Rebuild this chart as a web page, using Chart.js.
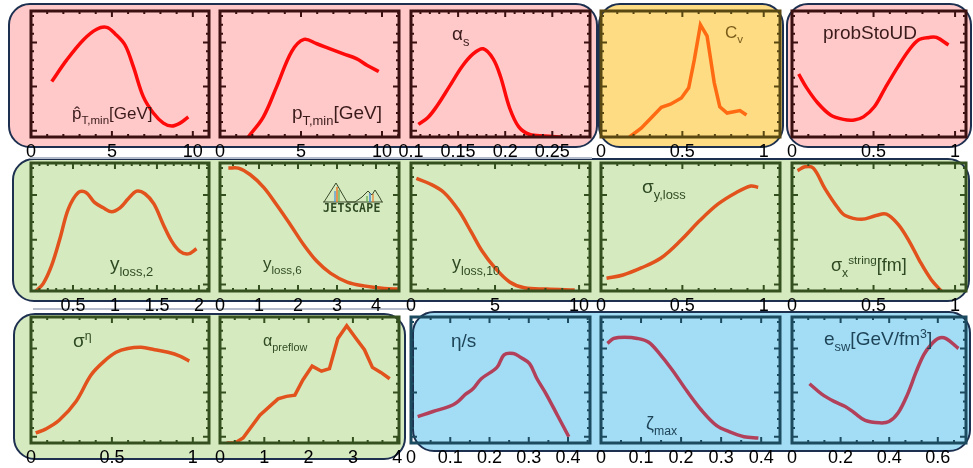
<!DOCTYPE html>
<html>
<head>
<meta charset="utf-8">
<script src="https://cdn.jsdelivr.net/npm/chart.js@4.4.0/dist/chart.umd.min.js"></script>
<style>
  body { margin: 0; background: #fff; }
  #root { position: relative; width: 973px; height: 468px; overflow: hidden; font-family: "Liberation Sans", Arial, sans-serif; }
  .box { position: absolute; box-sizing: border-box; border: 2.5px solid #1d3050; border-radius: 22px; }
  .shade { position: absolute; height: 2px; background: #b4bccb; }
  canvas { position: absolute; }
  .lbl { position: absolute; white-space: nowrap; line-height: 1; }
  .lbl .sb { font-size: 0.68em; position: relative; top: 0.45em; }
  .lbl .sp { font-size: 0.65em; position: relative; top: -0.6em; }
  #logo { position: absolute; left: 322px; top: 181px; width: 62px; height: 32px; }
  #logo span { position: absolute; left: 1px; top: 20px; font: bold 11.5px "DejaVu Sans Mono", monospace; color: #2f4a22; letter-spacing: 0.3px; }
</style>
</head>
<body>
<div id="root"></div>
<script>
// posterior curves, y = fraction of panel height
const ptHatX = [1.28, 2.2, 3.23, 4.06, 4.68, 5.19, 5.81, 6.32, 6.94, 7.56, 8.18, 8.7, 9.21, 9.72];
const ptHatY = [0.44, 0.61, 0.77, 0.855, 0.87, 0.82, 0.73, 0.56, 0.32, 0.19, 0.11, 0.087, 0.11, 0.16];
const ptMinX = [1.75, 2.68, 3.5, 4.43, 5.19, 5.98, 6.8, 7.62, 8.45, 9.07, 9.8];
const ptMinY = [0.0, 0.16, 0.4, 0.68, 0.775, 0.74, 0.7, 0.66, 0.62, 0.57, 0.52];
const alphaSX = [0.1078, 0.1174, 0.127, 0.1407, 0.1542, 0.1659, 0.1767, 0.1872, 0.195, 0.2047, 0.2144, 0.226, 0.2416, 0.259];
const alphaSY = [0.1, 0.15, 0.24, 0.4, 0.56, 0.66, 0.7, 0.62, 0.48, 0.23, 0.08, 0.02, 0.008, 0.0];
const cvX = [0.175, 0.247, 0.315, 0.371, 0.427, 0.494, 0.539, 0.573, 0.611, 0.652, 0.696, 0.73, 0.775, 0.854, 0.894];
const cvY = [0.0, 0.07, 0.16, 0.235, 0.26, 0.31, 0.39, 0.61, 0.89, 0.8, 0.43, 0.24, 0.19, 0.21, 0.175];
const probX = [0.041, 0.09, 0.158, 0.236, 0.315, 0.382, 0.438, 0.505, 0.572, 0.651, 0.718, 0.775, 0.842, 0.886, 0.96];
const probY = [0.5, 0.39, 0.27, 0.175, 0.14, 0.135, 0.16, 0.24, 0.39, 0.56, 0.69, 0.77, 0.79, 0.79, 0.73];

const yl2X = [0.06, 0.147, 0.246, 0.345, 0.444, 0.563, 0.655, 0.76, 0.86, 0.96, 1.06, 1.158, 1.258, 1.357, 1.464, 1.575, 1.675, 1.774, 1.873, 1.972];
const yl2Y = [0.0, 0.06, 0.2, 0.41, 0.64, 0.77, 0.77, 0.69, 0.65, 0.62, 0.65, 0.72, 0.78, 0.76, 0.68, 0.52, 0.39, 0.31, 0.29, 0.33];
const yl6X = [0.214, 0.47, 0.77, 1.12, 1.46, 1.8, 2.15, 2.49, 2.83, 3.26, 3.69, 4.21, 4.58];
const yl6Y = [0.96, 0.96, 0.91, 0.81, 0.67, 0.52, 0.36, 0.23, 0.14, 0.07, 0.04, 0.02, 0.015];
const yl10X = [0.32, 1.08, 1.96, 2.83, 3.59, 4.24, 5.0, 5.87, 6.74, 8.05, 9.74];
const yl10Y = [0.88, 0.84, 0.77, 0.63, 0.46, 0.31, 0.18, 0.07, 0.025, 0.015, 0.008];
const sigYX = [0.034, 0.135, 0.247, 0.371, 0.494, 0.607, 0.72, 0.832, 0.921, 0.966];
const sigYY = [0.1, 0.125, 0.18, 0.26, 0.4, 0.55, 0.68, 0.77, 0.82, 0.81];
const sigStrX = [0.034, 0.079, 0.131, 0.202, 0.281, 0.326, 0.426, 0.516, 0.579, 0.651, 0.718, 0.785, 0.853, 0.915];
const sigStrY = [0.94, 0.97, 0.96, 0.8, 0.65, 0.59, 0.56, 0.59, 0.6, 0.52, 0.39, 0.23, 0.09, 0.0];

const sigEtaX = [0.029, 0.09, 0.174, 0.278, 0.371, 0.453, 0.526, 0.598, 0.681, 0.764, 0.847, 0.92, 0.978];
const sigEtaY = [0.08, 0.11, 0.18, 0.33, 0.54, 0.65, 0.72, 0.75, 0.76, 0.74, 0.72, 0.69, 0.65];
const aPreX = [0.15, 0.34, 0.52, 0.9, 1.31, 1.5, 1.69, 1.87, 2.08, 2.29, 2.47, 2.66, 2.86, 3.07, 3.26, 3.44, 3.63, 3.83];
const aPreY = [0.0, 0.0, 0.04, 0.22, 0.35, 0.37, 0.38, 0.5, 0.61, 0.57, 0.59, 0.83, 0.93, 0.83, 0.74, 0.6, 0.56, 0.51];
const etaSX = [0.017, 0.056, 0.098, 0.116, 0.14, 0.158, 0.179, 0.219, 0.237, 0.261, 0.279, 0.302, 0.321, 0.344, 0.373, 0.402];
const etaSY = [0.21, 0.25, 0.29, 0.32, 0.39, 0.43, 0.51, 0.6, 0.7, 0.71, 0.68, 0.63, 0.51, 0.39, 0.22, 0.05];
const zetaX = [0.016, 0.032, 0.059, 0.091, 0.119, 0.146, 0.178, 0.215, 0.251, 0.288, 0.32, 0.357, 0.393];
const zetaY = [0.79, 0.83, 0.84, 0.83, 0.8, 0.71, 0.58, 0.41, 0.26, 0.14, 0.09, 0.05, 0.04];
const eswX = [0.072, 0.121, 0.173, 0.219, 0.256, 0.301, 0.361, 0.399, 0.437, 0.474, 0.512, 0.542, 0.572, 0.602, 0.632, 0.685];
const eswY = [0.47, 0.39, 0.33, 0.29, 0.24, 0.18, 0.16, 0.17, 0.24, 0.38, 0.57, 0.7, 0.78, 0.83, 0.83, 0.75];

// tick labels
const xTicksPt = [0, 5, 10];
const xTicksAlphaS = [0.1, 0.15, 0.2, 0.25];
const xTicksUnit = [0, 0.5, 1];
const xTicksYl2 = [0.5, 1, 1.5, 2];
const xTicksFour = [0, 1, 2, 3, 4];
const xTicksTenth = [0, 0.1, 0.2, 0.3, 0.4];
const xTicksEsw = [0, 0.2, 0.4, 0.6];
const yTickVals = [0.05, 0.4, 0.75];

const themes = {
  pink:   { bg: '#ffc9c9', frame: '#3b1010', line: '#ff0a0a', text: '#3a1a1a' },
  yellow: { bg: '#fddc84', frame: '#5a4812', line: '#ff6a12', text: '#7a5c1a' },
  green:  { bg: '#d6eac0', frame: '#34501e', line: '#e2521c', text: '#2f4a22' },
  blue:   { bg: '#a3ddf5', frame: '#1c4a5e', line: '#b2405a', text: '#1e4458' }
};

const cols = [[31, 209], [220, 399], [411, 590], [601, 780], [792, 966]];
const rows = [[11, 137], [163, 291], [317, 443]];

const panels = [
  { x: ptHatX, y: ptHatY, min: 0, max: 11, ticks: xTicksPt, minor: 5, r: 0, c: 0, th: 'pink' },
  { x: ptMinX, y: ptMinY, min: 0, max: 11.05, ticks: xTicksPt, minor: 5, r: 0, c: 1, th: 'pink' },
  { x: alphaSX, y: alphaSY, min: 0.1, max: 0.29, ticks: xTicksAlphaS, minor: 5, r: 0, c: 2, th: 'pink' },
  { x: cvX, y: cvY, min: 0, max: 1.1, ticks: xTicksUnit, minor: 5, r: 0, c: 3, th: 'yellow', sharp: true },
  { x: probX, y: probY, min: 0, max: 1.067, ticks: xTicksUnit, minor: 5, r: 0, c: 4, th: 'pink' },
  { x: yl2X, y: yl2Y, min: 0, max: 2.12, ticks: xTicksYl2, minor: 5, r: 1, c: 0, th: 'green' },
  { x: yl6X, y: yl6Y, min: 0, max: 4.59, ticks: xTicksFour, minor: 3, r: 1, c: 1, th: 'green' },
  { x: yl10X, y: yl10Y, min: 0, max: 10.65, ticks: xTicksPt, minor: 5, r: 1, c: 2, th: 'green' },
  { x: sigYX, y: sigYY, min: 0, max: 1.1, ticks: xTicksUnit, minor: 5, r: 1, c: 3, th: 'green' },
  { x: sigStrX, y: sigStrY, min: 0, max: 1.067, ticks: xTicksUnit, minor: 5, r: 1, c: 4, th: 'green' },
  { x: sigEtaX, y: sigEtaY, min: 0, max: 1.1, ticks: xTicksUnit, minor: 5, r: 2, c: 0, th: 'green' },
  { x: aPreX, y: aPreY, min: 0, max: 4.04, ticks: xTicksFour, minor: 3, r: 2, c: 1, th: 'green', sharp: true },
  { x: etaSX, y: etaSY, min: 0, max: 0.456, ticks: xTicksTenth, minor: 2, r: 2, c: 2, th: 'blue' },
  { x: zetaX, y: zetaY, min: 0, max: 0.447, ticks: xTicksTenth, minor: 2, r: 2, c: 3, th: 'blue' },
  { x: eswX, y: eswY, min: 0, max: 0.716, ticks: xTicksEsw, minor: 3, r: 2, c: 4, th: 'blue' }
];

const boxes = [
  { l: 8, t: 3, w: 590, h: 145, th: 'pink' },
  { l: 598, t: 3, w: 186, h: 145, th: 'yellow' },
  { l: 786, t: 3, w: 186, h: 145, th: 'pink' },
  { l: 12, t: 158, w: 958, h: 144, th: 'green' },
  { l: 13, t: 313, w: 393, h: 147, th: 'green' },
  { l: 412, t: 311, w: 559, h: 141, th: 'blue' }
];

const labels = [
  { h: 'p\u0302<span class="sb">T,min</span>[GeV]', l: 72, t: 105, s: 17, th: 'pink' },
  { h: 'p<span class="sb">T,min</span>[GeV]', l: 292, t: 103, s: 19, th: 'pink' },
  { h: 'α<span class="sb">s</span>', l: 452, t: 24, s: 19, th: 'pink' },
  { h: 'C<span class="sb">v</span>', l: 725, t: 24, s: 17, th: 'yellow' },
  { h: 'probStoUD', l: 823, t: 23, s: 19, th: 'pink' },
  { h: 'y<span class="sb">loss,2</span>', l: 110, t: 254, s: 19, th: 'green' },
  { h: 'y<span class="sb">loss,6</span>', l: 263, t: 255, s: 17, th: 'green' },
  { h: 'y<span class="sb">loss,10</span>', l: 452, t: 254, s: 18, th: 'green' },
  { h: 'σ<span class="sb">y,loss</span>', l: 642, t: 177, s: 19, th: 'green' },
  { h: 'σ<span class="sb">x</span><span class="sp">string</span>[fm]', l: 831, t: 256, s: 18, th: 'green' },
  { h: 'σ<span class="sp">η</span>', l: 73, t: 331, s: 19, th: 'green' },
  { h: 'α<span class="sb">preflow</span>', l: 263, t: 333, s: 16, th: 'green' },
  { h: 'η/s', l: 451, t: 331, s: 19, th: 'blue' },
  { h: 'ζ<span class="sb">max</span>', l: 646, t: 414, s: 18, th: 'blue' },
  { h: 'e<span class="sb">sw</span>[GeV/fm<span class="sp">3</span>]', l: 824, t: 329, s: 19, th: 'blue' }
];

// major ticks from the scale, minor ones between them
function tickMarks(scale, n) {
  const maj = scale.ticks.map(t => t.value);
  const step = (maj.length > 1 ? maj[1] - maj[0] : 1) / n;
  let v = maj[0];
  while (v - step >= scale.min - 1e-9) v -= step;
  const out = [];
  for (; v <= scale.max + 1e-9; v += step) {
    const major = maj.some(m => Math.abs(m - v) < step / 10);
    out.push({ p: scale.getPixelForValue(v), major });
  }
  return out;
}

const framePlugin = {
  id: 'frame',
  afterDatasetsDraw(chart, args, o) {
    const { ctx, chartArea: a, scales: { x, y } } = chart;
    ctx.save();
    ctx.strokeStyle = o.color;
    ctx.lineWidth = 2;
    ctx.beginPath();
    tickMarks(x, o.minor).forEach(t => {
      const len = t.major ? 6 : 3;
      ctx.moveTo(t.p, a.bottom); ctx.lineTo(t.p, a.bottom - len);
      ctx.moveTo(t.p, a.top); ctx.lineTo(t.p, a.top + len);
    });
    tickMarks(y, 5).forEach(t => {
      const len = t.major ? 6 : 3;
      ctx.moveTo(a.left, t.p); ctx.lineTo(a.left + len, t.p);
      ctx.moveTo(a.right, t.p); ctx.lineTo(a.right - len, t.p);
    });
    ctx.stroke();
    ctx.lineWidth = 3;
    ctx.strokeRect(a.left, a.top, a.right - a.left, a.bottom - a.top);
    ctx.restore();
  }
};

function renderRoot() {
  const root = document.getElementById('root');
  let h = '';
  boxes.forEach(b => {
    h += `<div class="box" style="left:${b.l}px;top:${b.t}px;width:${b.w}px;height:${b.h}px;background:${themes[b.th].bg}"></div>`;
  });
  h += `<div class="shade" style="left:30px;top:157px;width:562px"></div>`;
  h += `<div class="shade" style="left:33px;top:308px;width:380px"></div>`;
  panels.forEach((p, i) => {
    const [L, R] = cols[p.c], [T, B] = rows[p.r];
    h += `<canvas id="c${i}" width="${R - L + 40}" height="${B - T + 30}" style="left:${L - 20}px;top:${T - 4}px"></canvas>`;
  });
  h += `<div id="logo"><svg width="62" height="22" viewBox="0 0 62 22">
      <polyline points="2,21 14,2 25,21 33,21 40,16 46,10 50,14 53,9 58,17 60,21" fill="none" stroke="#3a4a2a" stroke-width="1"/>
      <line x1="1" y1="21" x2="61" y2="21" stroke="#3a4a2a" stroke-width="1"/>
      <line x1="15" y1="6" x2="15" y2="21" stroke="#e87a2a" stroke-width="1.5"/>
      <line x1="17" y1="9" x2="17" y2="21" stroke="#5aa84a" stroke-width="1.2"/>
      <line x1="13" y1="10" x2="13" y2="21" stroke="#4a8ad0" stroke-width="1.2"/>
      <line x1="48" y1="12" x2="48" y2="21" stroke="#4a8ad0" stroke-width="1.5"/>
      <line x1="51" y1="13" x2="51" y2="21" stroke="#e87a2a" stroke-width="1.2"/>
      <line x1="45" y1="15" x2="45" y2="21" stroke="#5aa84a" stroke-width="1.2"/>
    </svg><span>JETSCAPE</span></div>`;
  labels.forEach(lb => {
    h += `<div class="lbl" style="left:${lb.l}px;top:${lb.t}px;font-size:${lb.s}px;color:${themes[lb.th].text}">${lb.h}</div>`;
  });
  root.innerHTML = h;

  panels.forEach((p, i) => {
    const th = themes[p.th];
    new Chart(document.getElementById(`c${i}`), {
      type: 'line',
      data: {
        datasets: [{
          data: p.x.map((v, k) => ({ x: v, y: p.y[k] })),
          borderColor: th.line,
          borderWidth: 3.5,
          pointRadius: 0,
          tension: p.sharp ? 0 : 0.35,
          fill: false
        }]
      },
      options: {
        responsive: false,
        animation: false,
        devicePixelRatio: 1,
        events: [],
        layout: { padding: { left: 20, right: 20, top: 4, bottom: 0 } },
        plugins: { legend: { display: false }, tooltip: { enabled: false }, frame: { color: th.frame, minor: p.minor } },
        scales: {
          x: {
            type: 'linear', min: p.min, max: p.max,
            grid: { display: false, drawTicks: false },
            border: { display: false },
            afterBuildTicks: s => { s.ticks = p.ticks.map(v => ({ value: v })); },
            afterFit: s => { s.height = 26; },
            ticks: {
              autoSkip: false, maxRotation: 0, padding: 4,
              color: '#000', font: { family: 'Liberation Sans', size: 18 },
              callback: v => String(v)
            }
          },
          y: {
            min: 0, max: 1,
            grid: { display: false, drawTicks: false },
            border: { display: false },
            afterBuildTicks: s => { s.ticks = yTickVals.map(v => ({ value: v })); },
            afterFit: s => { s.width = 0; },
            ticks: { display: false }
          }
        }
      },
      plugins: [framePlugin]
    });
  });
}

renderRoot();
</script>
</body>
</html>
